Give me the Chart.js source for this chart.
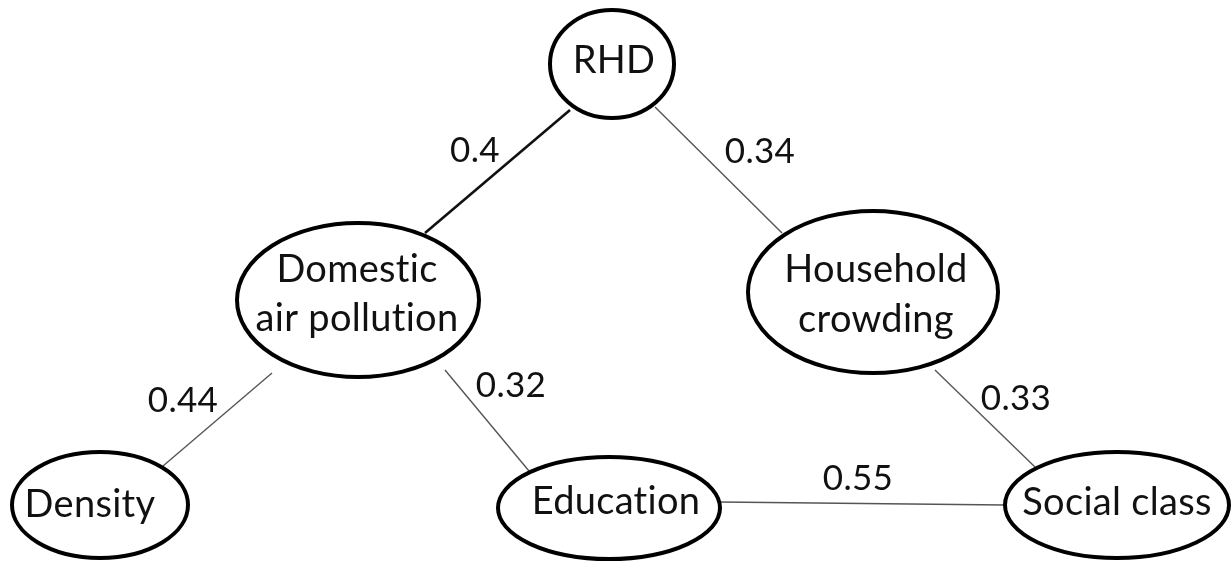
<!DOCTYPE html>
<html>
<head>
<meta charset="utf-8">
<script src="https://cdn.jsdelivr.net/npm/chart.js@4.4.1/dist/chart.umd.min.js"></script>
<style>
  html, body { margin: 0; padding: 0; background: #fff; }
</style>
</head>
<body>
<canvas id="myChart" width="1231" height="564"></canvas>
<script>
// Datos del diagrama: nodos, aristas y coeficientes
var nodeNames = [["RHD"], ["Domestic", "air pollution"], ["Household", "crowding"], ["Density"], ["Education"], ["Social class"]];
var edgeFrom = [0, 0, 1, 1, 2, 4];
var edgeTo = [1, 2, 3, 4, 5, 5];
var edgeValues = [0.4, 0.34, 0.44, 0.32, 0.33, 0.55];

// Posiciones (en unidades de los ejes, 0-1231 x 0-564)
var nodeX = [612, 358, 873, 100, 609, 1117];
var nodeY = [64, 300, 292, 505, 508, 505];
var nodeRx = [62, 121, 125, 88, 111, 112];
var nodeRy = [54, 77, 81, 53, 51, 53];
var nodeTextX = [614, 357, 876, 90, 616, 1117];
var nodeTextY = [[73], [282, 331], [282, 332], [517], [514], [515]];

// Extremos de cada arista
var edgeX1 = [570, 655, 272, 445, 935, 720];
var edgeY1 = [110, 107, 373, 370, 370, 502];
var edgeX2 = [425, 782, 163, 529, 1035, 1005];
var edgeY2 = [233, 233, 466, 471, 467, 505];
var labelX = [475, 760, 183, 511, 1016, 858];
var labelY = [162, 163, 412, 397, 410, 490];

// Datasets: una linea por arista y un dataset para los nodos
var datasets = [];
for (var i = 0; i < edgeFrom.length; i++) {
    datasets.push({
        label: nodeNames[edgeFrom[i]].join(' ') + ' - ' + nodeNames[edgeTo[i]].join(' '),
        data: [{x: edgeX1[i], y: edgeY1[i]}, {x: edgeX2[i], y: edgeY2[i]}],
        showLine: true,
        pointRadius: 0,
        borderColor: i === 0 ? '#111' : '#555',
        borderWidth: i === 0 ? 2.6 : 1.4
    });
}
var nodePoints = [];
for (var j = 0; j < nodeNames.length; j++) {
    nodePoints.push({x: nodeX[j], y: nodeY[j]});
}
datasets.push({label: 'nodes', data: nodePoints, pointRadius: 0, showLine: false});

var diagramPlugin = {
    id: 'diagram',
    afterDatasetsDraw: function (chart) {
        var ctx = chart.ctx;
        var xs = chart.scales.x, ys = chart.scales.y;
        var meta = chart.getDatasetMeta(datasets.length - 1);
        ctx.save();
        // sin ligaduras (el original no las tiene)
        ctx.letterSpacing = '0.3px';
        // Etiquetas de las aristas
        ctx.fillStyle = '#111';
        ctx.font = '35px Lato';
        ctx.textAlign = 'center';
        ctx.textBaseline = 'alphabetic';
        for (var i = 0; i < edgeValues.length; i++) {
            ctx.fillText(String(edgeValues[i]), xs.getPixelForValue(labelX[i]), ys.getPixelForValue(labelY[i]));
        }
        // Elipses de los nodos
        for (var j = 0; j < meta.data.length; j++) {
            var p = meta.data[j];
            var rx = Math.abs(xs.getPixelForValue(nodeX[j] + nodeRx[j]) - p.x);
            var ry = Math.abs(ys.getPixelForValue(nodeY[j] + nodeRy[j]) - p.y);
            ctx.beginPath();
            ctx.ellipse(p.x, p.y, rx, ry, 0, 0, Math.PI * 2);
            ctx.fillStyle = '#fff';
            ctx.fill();
            ctx.lineWidth = 4;
            ctx.strokeStyle = '#000';
            ctx.stroke();
            ctx.fillStyle = '#111';
            ctx.font = '38px Lato';
            for (var k = 0; k < nodeNames[j].length; k++) {
                ctx.fillText(nodeNames[j][k], xs.getPixelForValue(nodeTextX[j]), ys.getPixelForValue(nodeTextY[j][k]));
            }
        }
        ctx.restore();
    }
};

var ctx = document.getElementById('myChart').getContext('2d');
var myChart = new Chart(ctx, {
    type: 'scatter',
    data: { datasets: datasets },
    options: {
        responsive: false,
        animation: false,
        events: [],
        layout: { padding: 0 },
        plugins: { legend: { display: false }, tooltip: { enabled: false } },
        scales: {
            x: { type: 'linear', min: 0, max: 1231, display: false },
            y: { type: 'linear', min: 0, max: 564, reverse: true, display: false }
        }
    },
    plugins: [diagramPlugin]
});
</script>
</body>
</html>
